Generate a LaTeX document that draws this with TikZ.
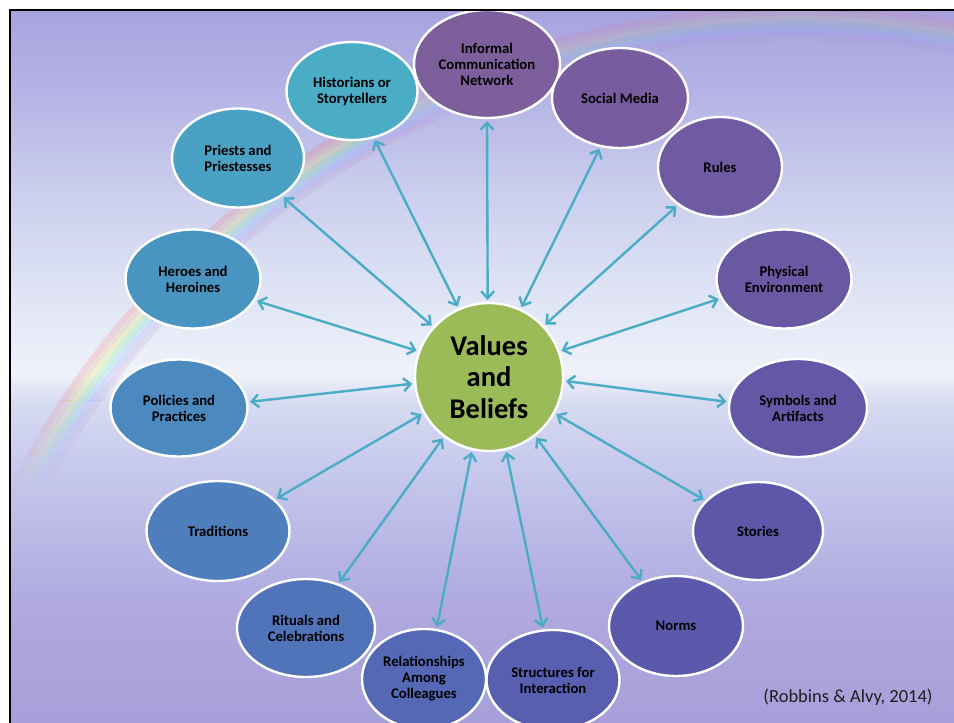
\documentclass[tikz,border=0pt]{standalone}
\usepackage{fontspec}
\setmainfont{Carlito}
\usetikzlibrary{arrows.meta,shapes.geometric}
\definecolor{skA}{HTML}{A8A3E0}
\definecolor{skB}{HTML}{B6B5E6}
\definecolor{skC}{HTML}{CDD0EE}
\definecolor{skD}{HTML}{E4E9F7}
\definecolor{skE}{HTML}{EFF2FA}
\definecolor{skF}{HTML}{D6DBF1}
\definecolor{skG}{HTML}{C6C8EC}
\definecolor{skH}{HTML}{B0AAE0}
\definecolor{skI}{HTML}{A79FD9}
\definecolor{arrowc}{HTML}{4BACC6}
\definecolor{cHis}{HTML}{4BACC6}
\definecolor{cPri}{HTML}{4BA1C4}
\definecolor{cHer}{HTML}{4A94C1}
\definecolor{cPol}{HTML}{4B89BF}
\definecolor{cTra}{HTML}{4F7EBD}
\definecolor{cRit}{HTML}{5173B9}
\definecolor{cRel}{HTML}{5468B5}
\definecolor{cStr}{HTML}{585EB0}
\definecolor{cNor}{HTML}{5B59AC}
\definecolor{cSto}{HTML}{5E56A8}
\definecolor{cSym}{HTML}{6358A6}
\definecolor{cPhy}{HTML}{6959A3}
\definecolor{cRul}{HTML}{6F5BA1}
\definecolor{cSoc}{HTML}{775C9F}
\definecolor{cInf}{HTML}{7D5F9C}
\definecolor{cVal}{HTML}{9BBB59}
\pgfdeclareverticalshading{skyshade}{100bp}{color(0bp)=(skI); color(25bp)=(skI); color(33.6bp)=(skH); color(42.7bp)=(skG); color(47.5bp)=(skF); color(49.5bp)=(skE); color(53.3bp)=(skD); color(61.7bp)=(skC); color(68.7bp)=(skB); color(75bp)=(skA); color(100bp)=(skA)}
\newcommand{\rainbowarcs}{%
\draw[rb, red!70] (796,889) circle[radius=881];
\draw[rb, orange!80] (796,889) circle[radius=876];
\draw[rb, yellow!90] (796,889) circle[radius=871];
\draw[rb, green!70] (796,889) circle[radius=866];
\draw[rb, cyan!70] (796,889) circle[radius=861];
\draw[rb, blue!50] (796,889) circle[radius=856];
\draw[rb, violet!50] (796,889) circle[radius=851];}
\begin{document}
\begin{tikzpicture}[x=1pt,y=-1pt,
  bub/.style={ellipse, draw=white, line width=2.4pt, inner sep=0pt, outer sep=3pt, align=center,
    font=\fontsize{14.7}{16}\selectfont\bfseries, text=black},
  conn/.style={draw=arrowc, line width=2.4pt,
    {Straight Barb[length=7pt,width=13pt]}-{Straight Barb[length=7pt,width=13pt]}},
  rb/.style={line width=5.5pt, opacity=\rbop}]
\useasboundingbox (0,0) rectangle (954,723);
\fill[white] (0,0) rectangle (954,723);
\shade[shading=skyshade] (10,10) rectangle (954,723);
\foreach \ya/\yb/\op in {10/120/0.08, 120/400/0.15, 400/430/0.11, 430/455/0.07, 455/480/0.035}{
  \begin{scope}
  \clip (10,\ya) rectangle (954,\yb);
  \def\rbop{\op}
  \rainbowarcs
  \end{scope}
}
% nodes
\node[bub, fill=cInf, minimum width=146pt, minimum height=108pt] (inf) at (487,64) {Informal\\Communication\\Network};
\node[bub, fill=cSoc, minimum width=136pt, minimum height=100pt] (soc) at (620,98) {Social Media};
\node[bub, fill=cRul, minimum width=124pt, minimum height=100pt] (rul) at (720,167) {Rules};
\node[bub, fill=cPhy, minimum width=135pt, minimum height=99pt] (phy) at (784,279) {Physical\\Environment};
\node[bub, fill=cSym, minimum width=138pt, minimum height=98pt] (sym) at (798,408) {Symbols and\\Artifacts};
\node[bub, fill=cSto, minimum width=130pt, minimum height=98pt] (sto) at (758,531) {Stories};
\node[bub, fill=cNor, minimum width=134pt, minimum height=100pt] (nor) at (676,626) {Norms};
\node[bub, fill=cStr, minimum width=133pt, minimum height=100pt] (str) at (553,680) {Structures for\\Interaction};
\node[bub, fill=cRel, minimum width=124pt, minimum height=100pt] (rel) at (424,679) {Relationships\\Among\\Colleagues};
\node[bub, fill=cRit, minimum width=138pt, minimum height=98pt] (rit) at (306,628) {Rituals and\\Celebrations};
\node[bub, fill=cTra, minimum width=143pt, minimum height=100pt] (tra) at (218,531) {Traditions};
\node[bub, fill=cPol, minimum width=137pt, minimum height=97pt] (pol) at (179,408) {Policies and\\Practices};
\node[bub, fill=cHer, minimum width=135pt, minimum height=99pt] (her) at (193,279) {Heroes and\\Heroines};
\node[bub, fill=cPri, minimum width=132pt, minimum height=99pt] (pri) at (238,158) {Priests and\\Priestesses};
\node[bub, fill=cHis, minimum width=131pt, minimum height=98pt] (his) at (352,91) {Historians or\\Storytellers};
\node[circle, fill=cVal, draw=white, line width=2.4pt, minimum size=148pt, inner sep=0pt, outer sep=3pt,
  align=center, font=\fontsize{28.5}{31.5}\selectfont\bfseries, text=black] (val) at (489,377) {Values\\and\\Beliefs};
% connectors
\draw[conn] (val.91.5) -- (inf.270);
\draw[conn] (val.65.2) -- (soc.248.2);
\draw[conn] (val.43.9) -- (rul.222.2);
\draw[conn] (val.20) -- (phy.197.9);
\draw[conn] (val.-3.8) -- (sym.175.9);
\draw[conn] (val.-29.9) -- (sto.150.5);
\draw[conn] (val.-52.7) -- (nor.127.5);
\draw[conn] (val.-77.3) -- (str.101.9);
\draw[conn] (val.257.1) -- (rel.76.8);
\draw[conn] (val.233.7) -- (rit.54.7);
\draw[conn] (val.209.6) -- (tra.29.6);
\draw[conn] (val.185.3) -- (pol.5.6);
\draw[conn] (val.160.6) -- (her.-19);
\draw[conn] (val.138.7) -- (pri.-41.6);
\draw[conn] (val.114.5) -- (his.-65.4);
% citation
\node[font=\fontsize{18.5}{21}\selectfont, text=black!88, inner sep=0pt] (cite) at (848,697) {(Robbins \& Alvy, 2014)};
% frame
\draw[black, line width=2.6pt] (10,723) -- (10,10) -- (954,10);
\end{tikzpicture}
\end{document}
